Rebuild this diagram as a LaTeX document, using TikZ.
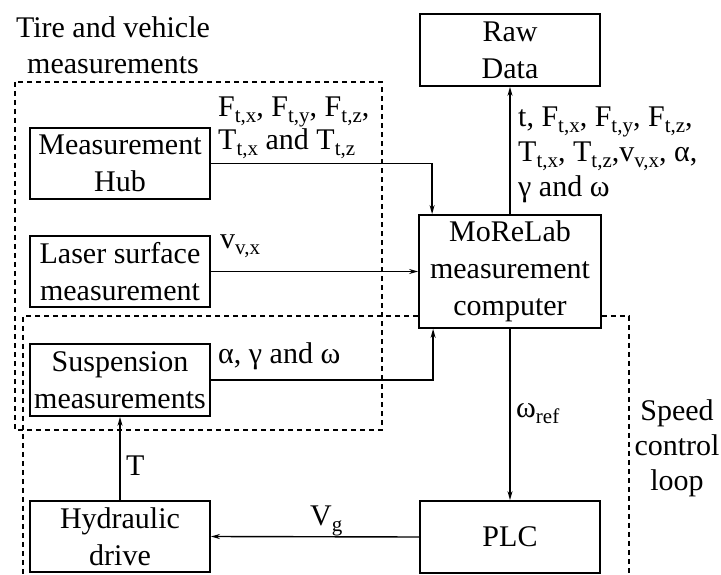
\documentclass[tikz,border=0pt]{standalone}
\usepackage{fontspec}
\setmainfont{Liberation Serif}
\usetikzlibrary{arrows.meta}
\newcommand\sbs[1]{\raisebox{-6pt}{\fontsize{21}{21}\selectfont #1}}
\begin{document}
\begin{tikzpicture}[x=1pt,y=-1pt,
  box/.style={draw,line width=1.8pt,minimum width=180pt,minimum height=72pt,inner sep=0pt,align=center,font=\fontsize{30}{37}\selectfont},
  lab/.style={inner sep=0pt,font=\fontsize{30}{36}\selectfont},
  conn/.style={line width=1.4pt,-{Stealth[length=9pt,width=5pt]}},
  region/.style={dash pattern=on 5pt off 4pt,line width=1.3pt}]
\useasboundingbox (0,0) rectangle (721,575);
% boxes
\node[box] (raw) at (510,50) {Raw\\Data};
\node[box,minimum height=71pt] (hub) at (120,163.5) {Measurement\\Hub};
\node[box,minimum height=71pt] (laser) at (120,271.5) {Laser surface\\measurement};
\node[box] (susp) at (120,380) {Suspension\\measurements};
\node[box,minimum height=71pt] (hyd) at (120,536.5) {Hydraulic\\drive};
\node[box,minimum width=182pt,minimum height=113pt] (mor) at (510,271.5) {MoReLab\\measurement\\computer};
\node[box] (plc) at (510,537) {PLC};
% connectors
\draw[conn] (hub.east) -| ([xshift=14pt]mor.north west);
\draw[conn] (laser.east) -- (mor.west);
\draw[conn] (susp.east) -| ([xshift=15pt]mor.south west);
\draw[conn] (mor.north) -- (raw.south);
\draw[conn] (mor.south) -- (plc.north);
\draw[conn] (plc.west) -- (hyd.east);
\draw[conn] (hyd.north) -- (susp.south);
% regions
\draw[region] (15,82) rectangle (382,430);
\coordinate (lt) at (23,316);
\coordinate (lb) at (23,575);
\coordinate (rt) at (629,316);
\coordinate (rb) at (629,575);
\draw[region] (lt -| mor.west) -- (lt) -- (lb);
\draw[region] (rt -| mor.east) -- (rt) -- (rb);
% labels
\node[lab,anchor=north,align=center] (tvm) at (113,16.5) {Tire and vehicle\\measurements};
\node[lab,anchor=north west,align=left,font=\fontsize{30}{30}\selectfont] (hublab) at (218,97) {F\sbs{t,x}, F\sbs{t,y}, F\sbs{t,z},\\T\sbs{t,x} and T\sbs{t,z}};
\node[lab,anchor=north west,align=left,font=\fontsize{30}{35}\selectfont] (morlab) at (518,107) {t, F\sbs{t,x}, F\sbs{t,y}, F\sbs{t,z},\\T\sbs{t,x}, T\sbs{t,z},v\sbs{v,x}, α,\\γ and ω};
\node[lab,anchor=base west] (vlab) at (220,248) {v\sbs{v,x}};
\node[lab,anchor=base west] (alab) at (218,363) {α, γ and ω};
\node[lab,anchor=base west] (tlab) at (126,475) {T};
\node[lab,anchor=base west] (vglab) at (310,525) {V\sbs{g}};
\node[lab,anchor=base west] (wlab) at (516,417) {ω\sbs{ref}};
\node[lab,anchor=north,align=center,font=\fontsize{30}{35}\selectfont] (scl) at (677,399.5) {Speed\\control\\loop};
\end{tikzpicture}
\end{document}
